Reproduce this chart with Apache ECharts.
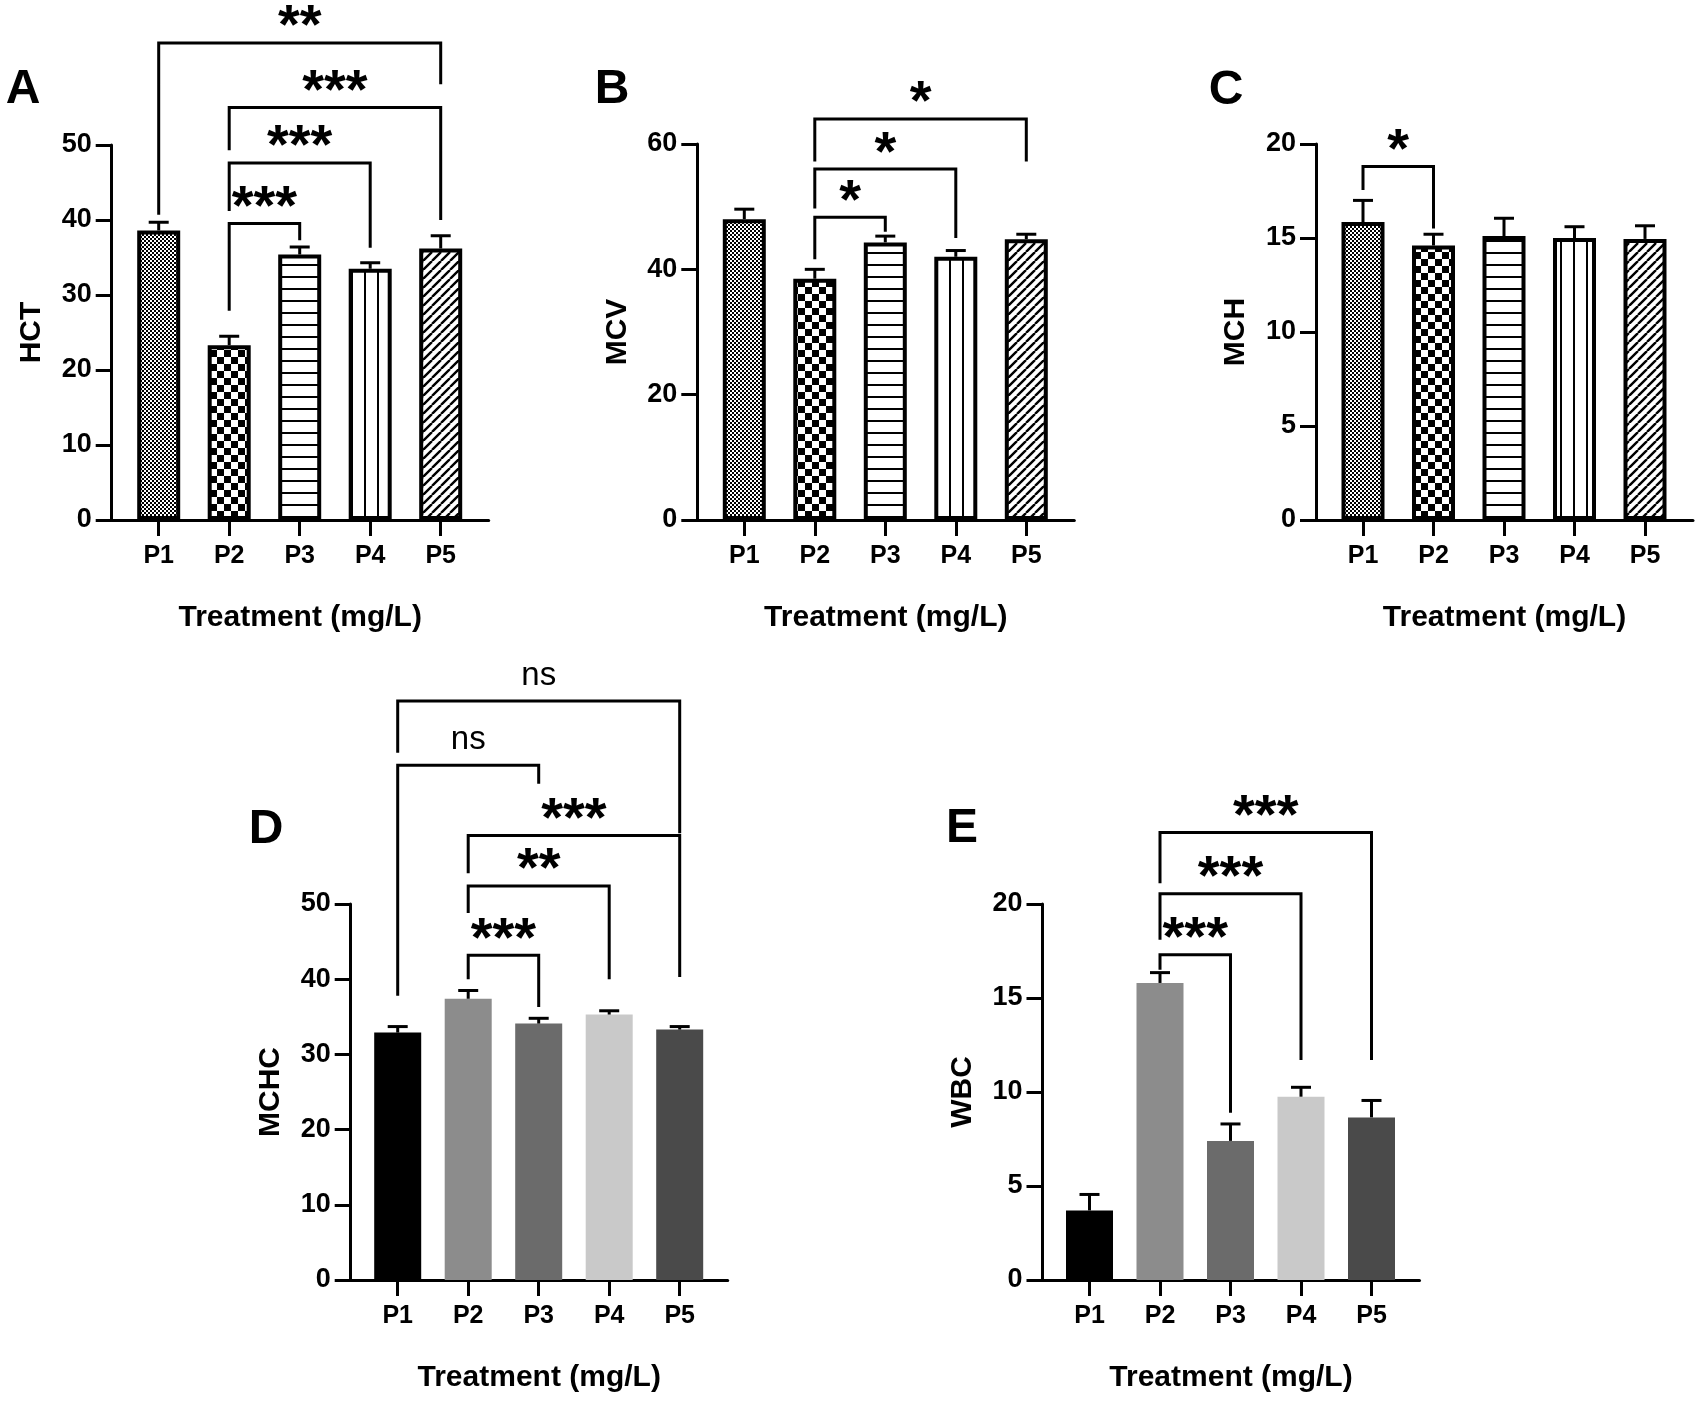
<!DOCTYPE html>
<html><head><meta charset="utf-8">
<script src="https://cdn.jsdelivr.net/npm/echarts@6/dist/echarts.min.js"></script>
<style>html,body{margin:0;padding:0;background:#fff}#c{width:1703px;height:1401px}</style>
</head><body><div id="c"></div>
<script>
// ---------- data ----------
const categories = ['P1', 'P2', 'P3', 'P4', 'P5'];
const xTitle = 'Treatment (mg/L)';

const hctMean  = [38.6, 23.3, 35.4, 33.5, 36.2];
const hctSem   = [1.1, 1.2, 1.0, 0.8, 1.7];
const mcvMean  = [48.0, 38.5, 44.3, 42.0, 44.8];
const mcvSem   = [1.6, 1.5, 1.0, 1.0, 0.8];
const mchMean  = [15.85, 14.6, 15.1, 15.0, 14.95];
const mchSem   = [1.15, 0.6, 0.95, 0.6, 0.7];
const mchcMean = [32.9, 37.4, 34.1, 35.3, 33.3];
const mchcSem  = [0.8, 1.1, 0.7, 0.5, 0.4];
const wbcMean  = [3.7, 15.8, 7.4, 9.75, 8.65];
const wbcSem   = [0.85, 0.55, 0.9, 0.5, 0.9];

// significance brackets: [fromIndex, toIndex, bracketTop, fromLegEnd, toLegEnd, label]
const hctSig = [
  [0, 4, 63.6, 40.7, 58.1, '**'],
  [1, 4, 55.0, 49.3, 40.0, '***'],
  [1, 3, 47.6, 41.2, 36.3, '***'],
  [1, 2, 39.55, 27.9, 37.3, '***']
];
const mcvSig = [
  [1, 2, 48.3, 41.6, 46.0, '*'],
  [1, 3, 56.0, 49.7, 45.0, '*'],
  [1, 4, 64.0, 57.2, 57.2, '*']
];
const mchSig = [
  [0, 1, 18.8, 17.55, 15.5, '*']
];
const mchcSig = [
  [0, 4, 77.0, 70.1, 59.4, 'ns'],
  [0, 2, 68.45, 37.8, 66.0, 'ns'],
  [1, 4, 59.1, 54.1, 40.3, '***'],
  [1, 3, 52.4, 48.8, 40.0, '**'],
  [1, 2, 43.2, 40.0, 36.3, '***']
];
const wbcSig = [
  [1, 4, 23.8, 21.1, 11.7, '***'],
  [1, 3, 20.55, 18.1, 11.7, '***'],
  [1, 2, 17.3, 16.5, 8.9, '***']
];

// y-axis scales: [min, max, interval]
const hctScale  = [0, 50, 10];
const mcvScale  = [0, 60, 20];
const mchScale  = [0, 20, 5];
const mchcScale = [0, 50, 10];
const wbcScale  = [0, 20, 5];

// ---------- styles ----------
const FONT = '"Liberation Sans", Arial, Helvetica, sans-serif';
function makeTile(w, h, draw) {
  const c = document.createElement('canvas');
  c.width = w; c.height = h;
  const g = c.getContext('2d');
  g.fillStyle = '#fff'; g.fillRect(0, 0, w, h);
  g.fillStyle = '#000'; g.strokeStyle = '#000';
  draw(g);
  return c;
}
const tiles = [
  makeTile(4, 4, g => { g.fillRect(0, 0, 2, 2); g.fillRect(2, 2, 2, 2); }),
  makeTile(14, 14, g => { g.fillRect(0, 0, 7, 7); g.fillRect(7, 7, 7, 7); }),
  makeTile(4, 12, g => { g.fillRect(0, 0, 4, 2); }),
  makeTile(13, 4, g => { g.fillRect(0, 0, 2, 4); }),
  makeTile(9, 9, g => { g.lineWidth = 2.4; g.beginPath();
    for (const k of [-9, 0, 9]) { g.moveTo(k, 9); g.lineTo(k + 9, 0); } g.stroke(); })
];
const grays = ['#000000', '#8c8c8c', '#6b6b6b', '#c9c9c9', '#4a4a4a'];

const panels = [
  { letter: 'A', name: 'HCT',  mean: hctMean,  sem: hctSem,  sig: hctSig,  scale: hctScale,  axisX: 111.7,  top: 145, bottom: 520,  patterned: true,  lx: 23,   ly: 90 },
  { letter: 'B', name: 'MCV',  mean: mcvMean,  sem: mcvSem,  sig: mcvSig,  scale: mcvScale,  axisX: 697.3,  top: 144, bottom: 520,  patterned: true,  lx: 612,  ly: 90 },
  { letter: 'C', name: 'MCH',  mean: mchMean,  sem: mchSem,  sig: mchSig,  scale: mchScale,  axisX: 1316,   top: 144, bottom: 520,  patterned: true,  lx: 1226, ly: 91 },
  { letter: 'D', name: 'MCHC', mean: mchcMean, sem: mchcSem, sig: mchcSig, scale: mchcScale, axisX: 350.7,  top: 904, bottom: 1280, patterned: false, lx: 266,  ly: 830 },
  { letter: 'E', name: 'WBC',  mean: wbcMean,  sem: wbcSem,  sig: wbcSig,  scale: wbcScale,  axisX: 1042.5, top: 904, bottom: 1280, patterned: false, lx: 962,  ly: 829 }
];

const grid = [], xAxis = [], yAxis = [], series = [], graphic = [];
const LINE = { color: '#000', width: 3 };

panels.forEach((p, i) => {
  const h = p.bottom - p.top;
  const outer = 2 * i, inner = 2 * i + 1;
  grid.push({ left: p.axisX, top: p.top, width: 377, height: h, outerBoundsMode: 'none', containLabel: false });
  grid.push({ left: p.axisX + 11.75, top: p.top, width: 352.5, height: h, outerBoundsMode: 'none', containLabel: false });

  xAxis.push({
    gridIndex: outer, type: 'value', min: 0, max: 1,
    axisLine: { show: true, onZero: false, lineStyle: LINE },
    axisTick: { show: false }, axisLabel: { show: false }, splitLine: { show: false },
    name: xTitle, nameLocation: 'middle', nameGap: 82.5, nameMoveOverlap: false,
    nameTextStyle: { fontFamily: FONT, fontWeight: 'bold', fontSize: 30, color: '#000' }
  });
  xAxis.push({
    gridIndex: inner, type: 'category', data: categories,
    axisLine: { show: false },
    axisTick: { show: true, alignWithLabel: true, length: 16, lineStyle: LINE },
    axisLabel: { interval: 0, margin: 24, fontFamily: FONT, fontWeight: 'bold', fontSize: 25, color: '#000' },
    splitLine: { show: false }
  });
  yAxis.push({
    gridIndex: outer, type: 'value', min: p.scale[0], max: p.scale[1], interval: p.scale[2],
    axisLine: { show: true, onZero: false, lineStyle: LINE },
    axisTick: { show: true, length: 16, lineStyle: LINE },
    axisLabel: { margin: 20, fontFamily: FONT, fontWeight: 'bold', fontSize: 27, color: '#000' },
    splitLine: { show: false },
    name: p.name, nameLocation: 'middle', nameGap: 65, nameRotate: 90, nameMoveOverlap: false,
    nameTextStyle: { fontFamily: FONT, fontWeight: 'bold', fontSize: 30, color: '#000' }
  });
  yAxis.push({
    gridIndex: inner, type: 'value', min: p.scale[0], max: p.scale[1], interval: p.scale[2], show: false
  });

  series.push({
    type: 'bar', xAxisIndex: inner, yAxisIndex: inner, silent: true,
    barWidth: p.patterned ? 43 : 47,
    data: p.mean.map((v, k) => ({
      value: v,
      itemStyle: p.patterned
        ? { color: { image: tiles[k], repeat: 'repeat' }, borderColor: '#000', borderWidth: 4 }
        : { color: grays[k], borderWidth: 0 }
    }))
  });

  series.push({
    type: 'custom', xAxisIndex: inner, yAxisIndex: inner, silent: true, z: 5, clip: false,
    data: p.mean.map((v, k) => [k, v, v + p.sem[k]]),
    renderItem: (params, api) => {
      const b = api.coord([api.value(0), api.value(1)]);
      const t = api.coord([api.value(0), api.value(2)]);
      return { type: 'group', children: [
        { type: 'line', shape: { x1: b[0], y1: b[1], x2: t[0], y2: t[1] }, style: { stroke: '#000', lineWidth: 3 } },
        { type: 'line', shape: { x1: t[0] - 10, y1: t[1], x2: t[0] + 10, y2: t[1] }, style: { stroke: '#000', lineWidth: 3 } }
      ] };
    }
  });

  series.push({
    type: 'custom', xAxisIndex: inner, yAxisIndex: inner, silent: true, z: 6, clip: false,
    data: p.sig.map(s => s.slice(0, 5)),
    renderItem: (params, api) => {
      const label = p.sig[params.dataIndex][5];
      const f = api.value(0), t = api.value(1), top = api.value(2);
      const a = api.coord([f, api.value(3)]);
      const b = api.coord([f, top]);
      const c = api.coord([t, top]);
      const d = api.coord([t, api.value(4)]);
      const isNs = label === 'ns';
      return { type: 'group', children: [
        { type: 'polyline', shape: { points: [a, b, c, d] },
          style: { stroke: '#000', lineWidth: 3, fill: null, lineJoin: 'miter' } },
        { type: 'text', x: (b[0] + c[0]) / 2, y: isNs ? b[1] - 25 : b[1] - 15,
          style: { text: label, fill: '#000', align: 'center', verticalAlign: 'middle',
            font: isNs ? ('normal 33px ' + FONT) : ('bold 56px ' + FONT) } }
      ] };
    }
  });

  graphic.push({ type: 'text', x: p.lx, y: p.ly, silent: true,
    style: { text: p.letter, fill: '#000', align: 'center', verticalAlign: 'middle', font: 'bold 48px ' + FONT } });
});

const chart = echarts.init(document.getElementById('c'), null, { renderer: 'canvas' });
chart.setOption({ animation: false, backgroundColor: '#fff', grid, xAxis, yAxis, series, graphic });
</script></body></html>
